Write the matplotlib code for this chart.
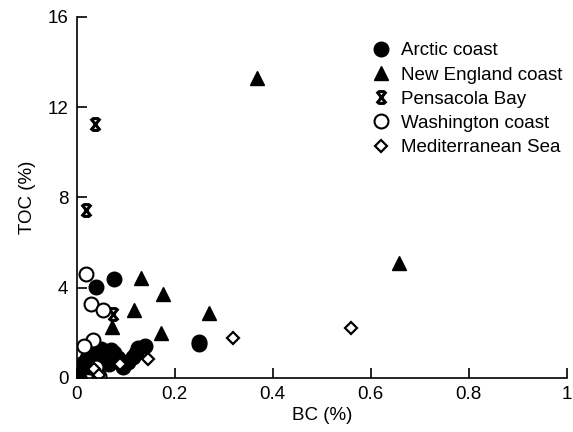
import matplotlib
matplotlib.use("Agg")
import matplotlib.pyplot as plt
from matplotlib.path import Path

plt.rcParams['font.family'] = ['Liberation Sans', 'DejaVu Sans']

arctic_x = [0.039, 0.075, 0.25, 0.25, 0.14, 0.125, 0.115, 0.095, 0.075, 0.06, 0.045, 0.035,
            0.05, 0.065, 0.013, 0.005, 0.02, 0.03, 0.085, 0.105, 0.12, 0.04, 0.055, 0.07]
arctic_y = [4.05, 4.4, 1.6, 1.5, 1.4, 1.35, 0.95, 0.5, 1.1, 1.0, 0.7, 1.1,
            1.3, 0.6, 0.65, 0.35, 0.9, 0.5, 0.9, 0.7, 1.1, 1.2, 0.8, 1.25]

ne_x = [0.367, 0.657, 0.132, 0.175, 0.116, 0.27, 0.171, 0.071, 0.01, 0.02]
ne_y = [13.3, 5.1, 4.45, 3.7, 3.0, 2.9, 2.0, 2.25, 0.15, 0.5]

pens_x = [0.038, 0.018, 0.074]
pens_y = [11.25, 7.45, 2.85]

wash_x = [0.018, 0.03, 0.053, 0.033, 0.014, 0.045, 0.04]
wash_y = [4.6, 3.3, 3.0, 1.7, 1.4, 0.1, 0.5]

med_x = [0.559, 0.318, 0.145, 0.088, 0.035, 0.045]
med_y = [2.2, 1.75, 0.85, 0.6, 0.4, 0.15]

xticks = [0, 0.2, 0.4, 0.6, 0.8, 1]
xticklabels = ['0', '0.2', '0.4', '0.6', '0.8', '1']
yticks = [0, 4, 8, 12, 16]

# custom marker: X with short top and bottom caps
verts = [(-0.8, 1), (0.8, -1), (-0.8, -1), (0.8, 1), (-0.55, 1), (0.55, 1), (-0.55, -1), (0.55, -1)]
codes = [Path.MOVETO, Path.LINETO] * 4
pens_marker = Path(verts, codes)

fig = plt.figure(figsize=(5.73, 4.32), dpi=100)
ax = fig.add_axes([0.134, 0.125, 0.855, 0.836])

ax.plot(arctic_x, arctic_y, 'o', color='black', markersize=10.5, linestyle='none', label='Arctic coast')
ax.plot(ne_x, ne_y, '^', color='black', markersize=10.5, linestyle='none', label='New England coast')
ax.plot(pens_x, pens_y, marker=pens_marker, color='black', markersize=8.5, markeredgewidth=2.2,
        markerfacecolor='none', linestyle='none', label='Pensacola Bay')
ax.plot(wash_x, wash_y, 'o', markerfacecolor='white', markeredgecolor='black', markeredgewidth=1.5,
        markersize=10, linestyle='none', label='Washington coast')
ax.plot(med_x, med_y, 'D', markerfacecolor='white', markeredgecolor='black', markeredgewidth=1.6,
        markersize=6.5, linestyle='none', label='Mediterranean Sea')

ax.set_xlim(0, 1)
ax.set_ylim(0, 16)
ax.set_xticks(xticks)
ax.set_xticklabels(xticklabels)
ax.set_yticks(yticks)
ax.spines['top'].set_visible(False)
ax.spines['right'].set_visible(False)
for s in ['left', 'bottom']:
    ax.spines[s].set_linewidth(1.2)
ax.tick_params(direction='in', length=7, width=1.2, labelsize=13.5, pad=6)
ax.set_xlabel('BC (%)', fontsize=13.5, labelpad=3)
ax.set_ylabel('TOC (%)', fontsize=13.5, labelpad=8)

ax.legend(loc='upper left', bbox_to_anchor=(0.598, 0.93), frameon=False, fontsize=13.5,
          handletextpad=0.45, labelspacing=0.38, handlelength=1.2, borderaxespad=0,
          borderpad=0)

fig.savefig('out.png', dpi=100)
